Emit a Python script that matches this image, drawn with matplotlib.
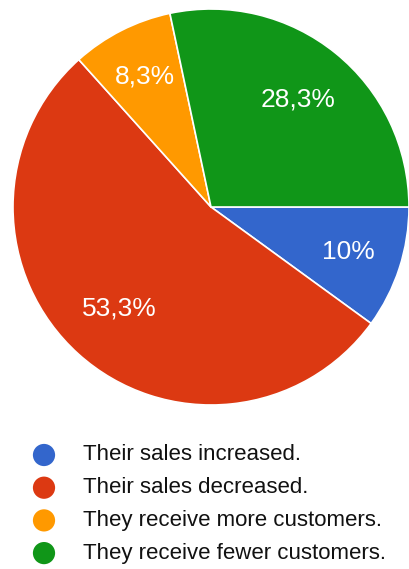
import matplotlib
matplotlib.use("Agg")
import matplotlib.pyplot as plt
import numpy as np

categories = ["Their sales increased.", "Their sales decreased.",
              "They receive more customers.", "They receive fewer customers."]
values = [10.0, 53.3, 8.3, 28.3]
pct_labels = ["10%", "53,3%", "8,3%", "28,3%"]
colors = ["#3366CC", "#DC3912", "#FF9900", "#109618"]

plt.rcParams['font.family'] = ['Liberation Sans', 'DejaVu Sans']

W, H = 410, 569
fig = plt.figure(figsize=(W / 100, H / 100), dpi=100)

# pie axes: centre (211,207) px, radius 198 px
cx, cy, r = 211, 207, 198
ax = fig.add_axes([(cx - r) / W, (H - cy - r) / H, 2 * r / W, 2 * r / H])
wedges, texts = ax.pie(values, colors=colors, startangle=0, counterclock=False,
                       wedgeprops=dict(edgecolor="white", linewidth=1.2),
                       labels=pct_labels, labeldistance=0.71,
                       textprops=dict(color="white", fontsize=19, ha="center", va="center"))
label_radius = [0.73, 0.69, 0.74, 0.70]
for w, t, lr in zip(wedges, texts, label_radius):
    ang = np.deg2rad((w.theta1 + w.theta2) / 2)
    t.set_position((lr * np.cos(ang), lr * np.sin(ang)))
    t.set_ha("center")
    t.set_va("center")
ax.set_xlim(-1, 1)
ax.set_ylim(-1, 1)
ax.set_aspect("equal")
ax.axis("off")

# legend axes in pixel coordinates
top = 429
lax = fig.add_axes([0, 0, 1, (H - top) / H])
lax.set_xlim(0, W)
lax.set_ylim(H - top, 0)
lax.axis("off")
row0, step = 26, 32.7
ys = [row0 + i * step for i in range(len(categories))]
lax.scatter([44] * len(categories), ys, s=16 ** 2, c=colors, marker="o", linewidths=0)
for y, lab in zip(ys, categories):
    lax.text(83, y, lab, fontsize=16, color="#111111", ha="left", va="center")

fig.savefig("out.png", dpi=100)
